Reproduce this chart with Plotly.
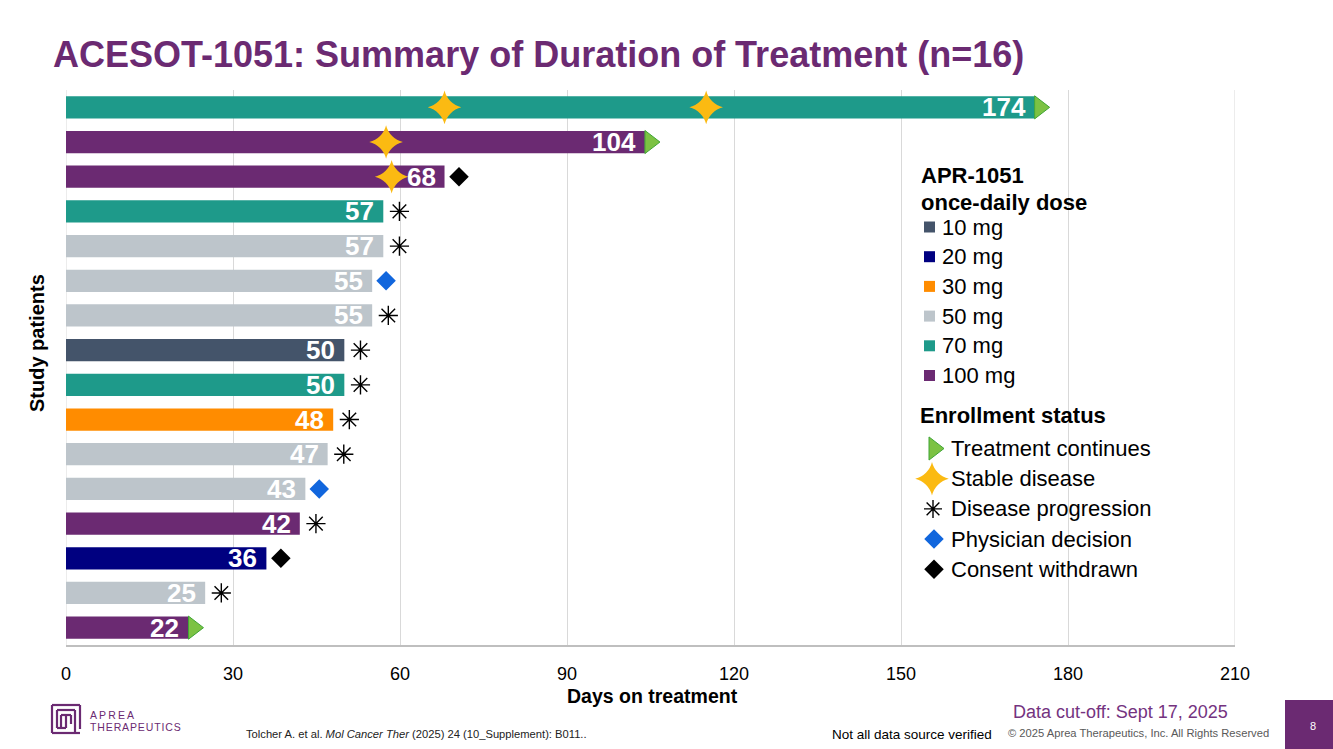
import plotly.graph_objects as go

W, H = 1333, 749

# ---------------- data ----------------
days = [174, 104, 68, 57, 57, 55, 55, 50, 50, 48, 47, 43, 42, 36, 25, 22]
dose = ["70 mg", "100 mg", "100 mg", "70 mg", "50 mg", "50 mg", "50 mg", "10 mg",
        "70 mg", "30 mg", "50 mg", "50 mg", "100 mg", "20 mg", "50 mg", "100 mg"]
status = ["continues", "continues", "withdrawn", "progression", "progression",
          "physician", "progression", "progression", "progression", "progression",
          "progression", "physician", "progression", "withdrawn", "progression",
          "continues"]
stable_patient = [0, 0, 1, 2]
stable_day = [68, 115, 57.5, 58.5]

dose_levels = ["10 mg", "20 mg", "30 mg", "50 mg", "70 mg", "100 mg"]
dose_colors = ["#44546A", "#000080", "#FF8C00", "#BDC5CB", "#1E9A8A", "#6B2A72"]

status_keys = ["continues", "stable", "progression", "physician", "withdrawn"]
status_labels = ["Treatment continues", "Stable disease", "Disease progression",
                 "Physician decision", "Consent withdrawn"]

x_ticks = [0, 30, 60, 90, 120, 150, 180, 210]

# ---------------- styles ----------------
PURPLE = "#6B2A72"
FONT = "Liberation Sans, Arial, sans-serif"
GRID = "#D9D9D9"
sym_style = {
    "continues": dict(symbol="triangle-right", size=20, color="#7CC243",
                      line=dict(color="#3FA535", width=1), offset=0.9),
    "stable": dict(symbol="star-diamond", size=24, color="#FBBA12",
                   line=dict(color="#FBBA12", width=0), offset=0),
    "progression": dict(symbol="asterisk-open", size=16, color="black",
                        line=dict(color="black", width=1.4), offset=2.9),
    "physician": dict(symbol="diamond", size=15, color="#1166DD",
                      line=dict(color="#1166DD", width=0), offset=2.5),
    "withdrawn": dict(symbol="diamond", size=15, color="black",
                      line=dict(color="black", width=0), offset=2.6),
}


def px(x):
    return x / W


def py(y):
    return 1 - y / H


n = len(days)
rows = [n - 1 - i for i in range(n)]

fig = go.Figure()

# edge gridlines (at first and last tick)
for t in (x_ticks[0], x_ticks[-1]):
    fig.add_shape(type="line", xref="x", yref="y domain", x0=t, x1=t, y0=0, y1=1,
                  line=dict(color=GRID, width=1), layer="below")

# bars, one trace per dose level
for lvl, col in zip(dose_levels, dose_colors):
    idx = [i for i in range(n) if dose[i] == lvl]
    fig.add_trace(go.Bar(
        x=[days[i] for i in idx], y=[rows[i] for i in idx],
        orientation="h", width=0.64, marker=dict(color=col, line=dict(width=0)),
        name=lvl, showlegend=False, hoverinfo="x",
    ))

# stable disease stars
st = sym_style["stable"]
fig.add_trace(go.Scatter(
    x=stable_day, y=[rows[p] for p in stable_patient], mode="markers",
    marker=dict(symbol=st["symbol"], size=st["size"], color=st["color"], line=st["line"]),
    showlegend=False, cliponaxis=False,
))

# end-of-treatment markers
for key in ["continues", "progression", "physician", "withdrawn"]:
    s = sym_style[key]
    idx = [i for i in range(n) if status[i] == key]
    fig.add_trace(go.Scatter(
        x=[days[i] + s["offset"] for i in idx], y=[rows[i] for i in idx],
        mode="markers",
        marker=dict(symbol=s["symbol"], size=s["size"], color=s["color"], line=s["line"]),
        showlegend=False, cliponaxis=False,
    ))

annotations = []
# bar value labels
for i in range(n):
    annotations.append(dict(
        x=days[i], y=rows[i], xref="x", yref="y", text=str(days[i]),
        showarrow=False, xanchor="right", yanchor="middle", xshift=-7, yshift=0,
        font=dict(family=FONT, size=26, color="white", weight="bold"),
    ))

# ---------------- manual legend ----------------
LEG = 22
annotations.append(dict(x=px(919), y=py(175), xref="paper", yref="paper",
                        text="APR-1051", showarrow=False, xanchor="left", yanchor="middle",
                        font=dict(family=FONT, size=LEG, color="black", weight="bold")))
annotations.append(dict(x=px(919), y=py(202), xref="paper", yref="paper",
                        text="once-daily dose", showarrow=False, xanchor="left", yanchor="middle",
                        font=dict(family=FONT, size=LEG, color="black", weight="bold")))
dose_y0, dose_dy = 227, 29.7
for k, (lvl, col) in enumerate(zip(dose_levels, dose_colors)):
    yc = dose_y0 + k * dose_dy
    fig.add_shape(type="rect", xref="paper", yref="paper",
                  x0=px(924), x1=px(935), y0=py(yc - 5.5), y1=py(yc + 5.5),
                  fillcolor=col, line=dict(width=0))
    annotations.append(dict(x=px(940), y=py(yc), xref="paper", yref="paper",
                            text=lvl, showarrow=False, xanchor="left", yanchor="middle",
                            font=dict(family=FONT, size=LEG, color="black")))

annotations.append(dict(x=px(918), y=py(415), xref="paper", yref="paper",
                        text="Enrollment status", showarrow=False, xanchor="left", yanchor="middle",
                        font=dict(family=FONT, size=LEG, color="black", weight="bold")))
stat_y0, stat_dy = 448.5, 30.2
leg_icon_x = {"continues": 934, "stable": 932, "progression": 933,
              "physician": 934, "withdrawn": 934}
leg_size = {"continues": 20, "stable": 24, "progression": 15,
            "physician": 15, "withdrawn": 15}
for k, (key, lab) in enumerate(zip(status_keys, status_labels)):
    yc = stat_y0 + k * stat_dy
    s = sym_style[key]
    fig.add_trace(go.Scatter(
        x=[leg_icon_x[key]], y=[yc], xaxis="x2", yaxis="y2", mode="markers",
        marker=dict(symbol=s["symbol"], size=leg_size[key], color=s["color"], line=s["line"]),
        showlegend=False, hoverinfo="skip", cliponaxis=False,
    ))
    annotations.append(dict(x=px(949), y=py(yc), xref="paper", yref="paper",
                            text=lab, showarrow=False, xanchor="left", yanchor="middle",
                            font=dict(family=FONT, size=LEG, color="black")))

# ---------------- titles / footer ----------------
annotations.append(dict(x=px(51), y=py(55), xref="paper", yref="paper",
                        text="ACESOT-1051: Summary of Duration of Treatment (n=16)",
                        showarrow=False, xanchor="left", yanchor="middle",
                        font=dict(family=FONT, size=36, color=PURPLE, weight="bold")))
annotations.append(dict(x=px(37), y=py(343), xref="paper", yref="paper",
                        text="Study patients", textangle=-90,
                        showarrow=False, xanchor="center", yanchor="middle",
                        font=dict(family=FONT, size=20, color="black", weight="bold")))
annotations.append(dict(x=px(652), y=py(696), xref="paper", yref="paper",
                        text="Days on treatment",
                        showarrow=False, xanchor="center", yanchor="middle",
                        font=dict(family=FONT, size=19.5, color="black", weight="bold")))
annotations.append(dict(x=px(244), y=py(734), xref="paper", yref="paper",
                        text="Tolcher A. et al. <i>Mol Cancer Ther</i> (2025) 24 (10_Supplement): B011..",
                        showarrow=False, xanchor="left", yanchor="middle",
                        font=dict(family=FONT, size=11.2, color="#222222")))
annotations.append(dict(x=px(830), y=py(734), xref="paper", yref="paper",
                        text="Not all data source verified",
                        showarrow=False, xanchor="left", yanchor="middle",
                        font=dict(family=FONT, size=13.5, color="black")))
annotations.append(dict(x=px(1006), y=py(733), xref="paper", yref="paper",
                        text="© 2025 Aprea Therapeutics, Inc. All Rights Reserved",
                        showarrow=False, xanchor="left", yanchor="middle",
                        font=dict(family=FONT, size=11.2, color="#595959")))
annotations.append(dict(x=px(1011), y=py(712), xref="paper", yref="paper",
                        text="Data cut-off: Sept 17, 2025",
                        showarrow=False, xanchor="left", yanchor="middle",
                        font=dict(family=FONT, size=18, color="#74337F")))
fig.add_shape(type="rect", xref="paper", yref="paper",
              x0=px(1285), x1=1, y0=0, y1=py(700), fillcolor=PURPLE, line=dict(width=0))
annotations.append(dict(x=px(1313), y=py(726), xref="paper", yref="paper",
                        text="8", showarrow=False, xanchor="center", yanchor="middle",
                        font=dict(family=FONT, size=11, color="white")))

# logo
annotations.append(dict(x=px(88), y=py(715), xref="paper", yref="paper",
                        text="\u2009".join("APREA"), showarrow=False, xanchor="left", yanchor="middle",
                        font=dict(family=FONT, size=10.5, color=PURPLE)))
annotations.append(dict(x=px(88), y=py(727), xref="paper", yref="paper",
                        text="\u200a".join("THERAPEUTICS"), showarrow=False, xanchor="left", yanchor="middle",
                        font=dict(family=FONT, size=10.5, color=PURPLE)))
logo_lines = [
    (52, 705, 80, 705), (52, 705, 52, 733), (52, 733, 80, 733), (80, 705, 80, 729),
    (57, 710, 75, 710), (57, 710, 57, 728), (75, 710, 75, 733),
    (61, 715, 71, 715), (66, 715, 66, 728), (61, 715, 61, 728), (71, 715, 71, 724),
    (57, 728, 66, 728),
]
for (xa, ya, xb, yb) in logo_lines:
    fig.add_shape(type="line", xref="paper", yref="paper",
                  x0=px(xa), y0=py(ya), x1=px(xb), y1=py(yb),
                  line=dict(color=PURPLE, width=2.2))

fig.update_layout(
    width=W, height=H, autosize=False,
    margin=dict(l=0, r=0, t=0, b=0, pad=0, autoexpand=False),
    paper_bgcolor="white", plot_bgcolor="rgba(0,0,0,0)",
    showlegend=False, bargap=0.36,
    annotations=annotations,
    xaxis=dict(domain=[px(66), px(1235)], range=[0, 210], tickvals=x_ticks,
               ticktext=[str(t) for t in x_ticks], showgrid=True, gridcolor=GRID,
               gridwidth=1, zeroline=False, showline=True, linecolor="#BFBFBF",
               linewidth=1.5, ticks="", ticklabelstandoff=12, automargin=False,
               tickfont=dict(family=FONT, size=18, color="black"), fixedrange=True),
    yaxis=dict(domain=[py(645), py(90)], range=[-0.5, n - 0.5], showgrid=False,
               zeroline=False, showticklabels=False, ticks="", showline=False,
               automargin=False, fixedrange=True),
    xaxis2=dict(domain=[0, 1], range=[0, W], anchor="y2", visible=False,
                automargin=False, fixedrange=True),
    yaxis2=dict(domain=[0, 1], range=[H, 0], anchor="x2", visible=False,
                automargin=False, fixedrange=True),
)

fig.write_html(
    "out.html",
    config={"displayModeBar": False, "responsive": False},
    post_script="document.body.style.margin='0';document.body.style.overflow='hidden';",
)
